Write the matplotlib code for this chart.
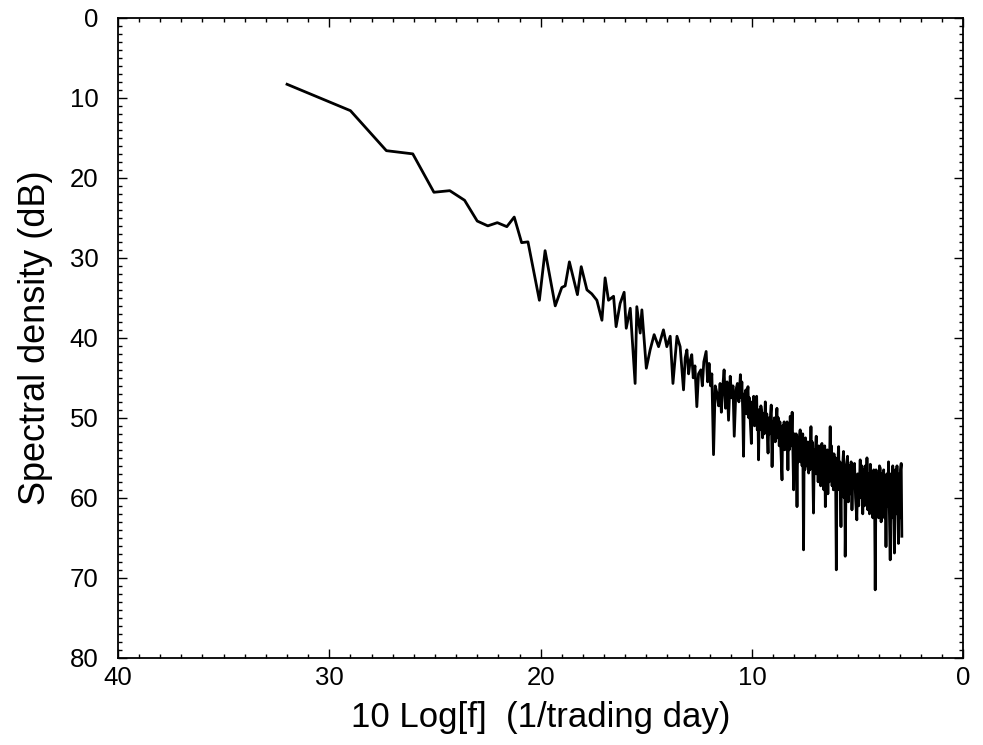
import matplotlib
matplotlib.use("Agg")
import matplotlib.pyplot as plt
from matplotlib.ticker import MultipleLocator

plt.rcParams['font.family'] = ['Liberation Sans', 'DejaVu Sans']

# low-frequency part of the spectrum (sparse points)
x_low = [32.0, 29.0, 27.3, 26.05, 25.05, 24.3, 23.6, 23.0, 22.5, 22.05, 21.6, 21.25,
         20.9, 20.6, 20.06, 19.79, 19.31, 19.0, 18.84, 18.64, 18.26, 18.08, 17.81,
         17.58, 17.34, 17.1, 16.95, 16.79, 16.55, 16.43, 16.24, 16.05, 15.95, 15.76,
         15.53, 15.45, 15.29, 15.21, 15.0, 14.82, 14.63, 14.42, 14.19, 14.03, 13.87,
         13.74, 13.55, 13.4, 13.24]
y_low = [8.3, 11.6, 16.6, 17.0, 21.8, 21.6, 22.8, 25.4, 26.0, 25.6, 26.1, 24.9,
         28.1, 28.0, 35.3, 29.1, 36.0, 33.7, 33.5, 30.5, 34.6, 31.1, 34.0,
         34.5, 35.3, 37.8, 32.5, 35.3, 34.8, 38.6, 35.7, 34.3, 38.8, 36.3,
         45.7, 36.1, 39.4, 36.5, 43.8, 41.5, 39.6, 41.1, 39.0, 41.1, 39.8,
         45.7, 39.8, 41.1, 46.5]

# middle part
x_mid = [13.16, 13.08, 13.0, 12.92, 12.85, 12.78, 12.7, 12.61, 12.53, 12.42,
         12.35, 12.28, 12.17, 12.1, 12.03, 11.96, 11.9, 11.82, 11.74, 11.66,
         11.58, 11.51, 11.45, 11.38, 11.32, 11.25, 11.18, 11.11, 11.03, 10.96,
         10.9, 10.84, 10.76, 10.69, 10.62]
y_mid = [42.5, 41.5, 44.5, 42.8, 42.1, 45.0, 43.5, 48.6, 44.5, 44.0,
         46.0, 43.0, 41.7, 45.5, 43.2, 46.0, 44.5, 54.6, 46.0, 46.9,
         48.5, 45.7, 49.3, 46.0, 44.0, 48.8, 45.5, 50.3, 44.8, 47.5,
         46.0, 52.3, 46.5, 45.7, 48.0]

# dense part
x_dense = [10.55, 10.51, 10.48, 10.44, 10.4, 10.36, 10.33, 10.29, 10.26, 10.22,
           10.19, 10.15, 10.12, 10.08, 10.03, 9.99, 9.95, 9.92, 9.88, 9.85,
           9.81, 9.78, 9.75, 9.72, 9.69, 9.65, 9.62, 9.58, 9.53, 9.5,
           9.46, 9.42, 9.37, 9.33, 9.3, 9.27, 9.24, 9.2, 9.16, 9.12,
           9.09, 9.05, 9.01, 8.98, 8.94, 8.9, 8.86, 8.82, 8.78, 8.75,
           8.71, 8.68, 8.63, 8.58, 8.55, 8.52, 8.48, 8.45, 8.41, 8.38,
           8.34, 8.3, 8.27, 8.24, 8.19, 8.15, 8.1, 8.06, 8.03, 7.99,
           7.96, 7.91, 7.87, 7.84, 7.8, 7.76, 7.72, 7.69, 7.66, 7.63,
           7.6, 7.56, 7.53, 7.5, 7.47, 7.43, 7.4, 7.36, 7.32, 7.29,
           7.26, 7.21, 7.18, 7.15, 7.12, 7.09, 7.05, 7.02, 6.99, 6.96,
           6.93, 6.9, 6.87, 6.84, 6.81, 6.78, 6.75, 6.72, 6.69, 6.66,
           6.63, 6.6, 6.56, 6.53, 6.5, 6.47, 6.44, 6.41, 6.38, 6.35,
           6.3, 6.27, 6.24, 6.21, 6.18, 6.15, 6.12, 6.09, 6.05, 6.01,
           5.98, 5.95, 5.92, 5.9, 5.87, 5.84, 5.81, 5.79, 5.76, 5.73,
           5.7, 5.67, 5.64, 5.61, 5.59]
y_dense = [44.6, 47.5, 45.5, 49.0, 54.8, 47.0, 48.5, 46.5, 49.5, 47.0,
           46.1, 50.0, 47.5, 50.5, 53.2, 48.0, 50.5, 47.3, 51.0, 48.0,
           50.5, 47.3, 51.5, 49.0, 55.25, 49.0, 51.5, 48.5, 49.4, 52.5,
           49.5, 52.0, 48.0, 51.5, 49.5, 52.5, 54.4, 50.0, 52.0, 49.5,
           48.4, 56.1, 50.5, 52.5, 50.0, 53.0, 50.5, 48.8, 52.5, 50.0,
           53.5, 50.5, 54.0, 57.75, 51.0, 53.5, 50.5, 54.0, 51.5, 53.5,
           50.5, 56.5, 51.5, 54.0, 49.8, 53.5, 49.3, 54.5, 59.0, 52.0,
           55.0, 52.0, 61.1, 53.0, 55.5, 52.5, 51.5, 55.5, 52.5, 56.0,
           52.0, 66.5, 53.0, 56.5, 52.5, 56.0, 53.0, 55.5, 56.9, 53.0,
           56.5, 51.1, 55.5, 53.0, 57.0, 61.9, 54.0, 57.0, 53.5, 52.3,
           57.0, 54.0, 58.0, 53.5, 57.5, 54.0, 58.5, 53.5, 53.2, 58.0,
           54.5, 59.0, 53.5, 61.1, 54.5, 58.5, 54.0, 59.5, 54.5, 58.0,
           51.1, 56.5, 53.5, 58.5, 54.5, 59.0, 54.5, 58.5, 55.0, 69.0,
           55.5, 59.0, 54.5, 53.6, 59.0, 55.5, 60.0, 63.6, 56.0, 59.5,
           55.5, 54.2, 60.0, 56.5, 67.3]

# highest frequencies
x_tail = [5.54, 5.48, 5.44, 5.4, 5.35, 5.31, 5.27, 5.22, 5.15, 5.1,
          5.04, 5.0, 4.95, 4.88, 4.84, 4.8, 4.76, 4.72, 4.68, 4.64,
          4.6, 4.56, 4.52, 4.48, 4.44, 4.4, 4.36, 4.32, 4.28, 4.24,
          4.2, 4.17, 4.13, 4.09, 4.05, 4.01, 3.97, 3.93, 3.89, 3.85,
          3.81, 3.77, 3.73, 3.7, 3.66, 3.62, 3.58, 3.54, 3.5, 3.46,
          3.42, 3.38, 3.34, 3.3, 3.26, 3.22, 3.18, 3.14, 3.1, 3.07,
          3.03, 3.0, 2.97, 2.94, 2.91]
y_tail = [56.0, 54.8, 60.5, 56.0, 59.5, 55.5, 61.5, 56.5, 55.7, 60.0,
          62.75, 57.0, 61.0, 55.25, 60.0, 56.0, 62.0, 56.5, 61.0, 56.0,
          60.5, 55.0, 61.5, 57.0, 62.0, 55.8, 60.5, 57.0, 62.5, 56.5,
          60.0, 71.5, 56.5, 61.0, 57.0, 62.5, 56.0, 56.3, 63.0, 57.0,
          61.5, 56.5, 62.5, 57.5, 66.1, 57.0, 61.0, 55.5, 62.0, 67.75,
          57.0, 62.5, 56.0, 61.5, 66.9, 56.5, 62.0, 56.0, 61.0, 65.7,
          57.0, 62.5, 56.5, 55.7, 64.8]

x_all = x_low + x_mid + x_dense + x_tail
y_all = y_low + y_mid + y_dense + y_tail

fig = plt.figure(figsize=(9.83, 7.45), dpi=100)
ax = fig.add_axes([0.120, 0.117, 0.860, 0.859])

ax.plot(x_all, y_all, color='black', linewidth=2.0)

ax.set_xlim(40, 0)
ax.set_ylim(80, 0)
ax.xaxis.set_major_locator(MultipleLocator(10))
ax.xaxis.set_minor_locator(MultipleLocator(1))
ax.yaxis.set_major_locator(MultipleLocator(10))
ax.yaxis.set_minor_locator(MultipleLocator(1))
ax.tick_params(which='both', direction='in', top=True, right=True, width=1.0)
ax.tick_params(which='major', length=6.5, labelsize=18.5)
ax.tick_params(axis='x', which='major', pad=6)
ax.tick_params(axis='y', which='major', pad=14)
ax.tick_params(which='minor', length=3.2)
for s in ax.spines.values():
    s.set_linewidth(1.3)

ax.set_xlabel('10 Log[f]  (1/trading day)', fontsize=25, labelpad=8)
ax.set_ylabel('Spectral density (dB)', fontsize=26, labelpad=12)

fig.savefig('out.png', dpi=100)
